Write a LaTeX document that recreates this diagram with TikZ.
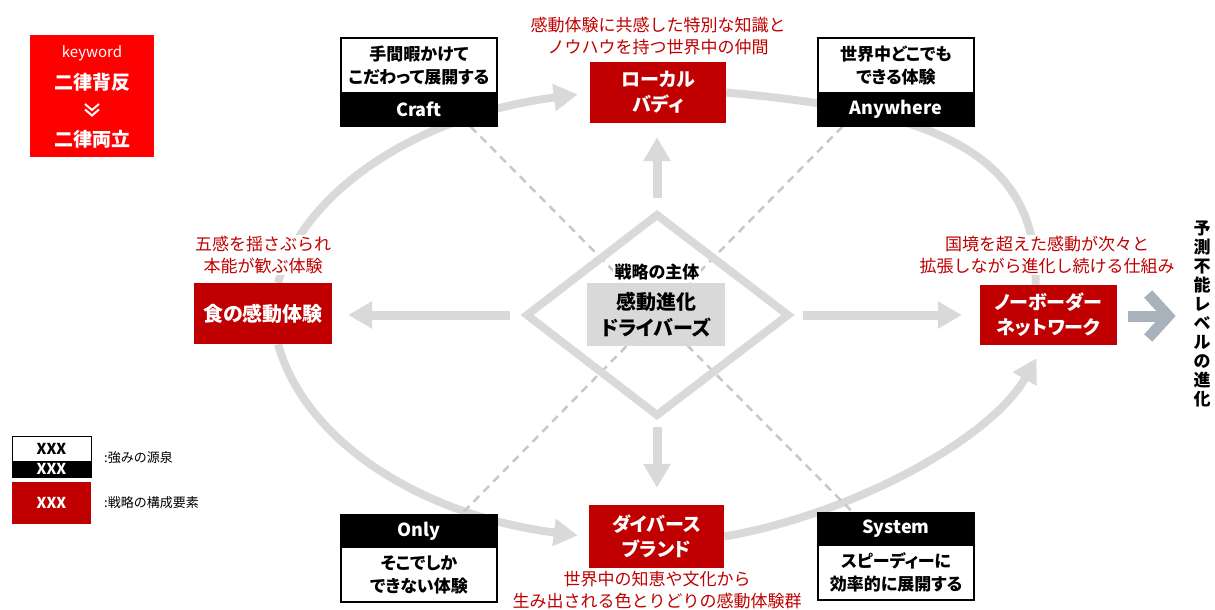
\documentclass[tikz,border=0pt]{standalone}
\usepackage{fontspec}
\setmainfont{Noto Sans CJK JP}
\newfontfamily\jpp{Noto Sans CJK JP}[RawFeature=+palt]
\usetikzlibrary{arrows.meta,calc}
\pgfdeclarelayer{bg}
\pgfsetlayers{bg,main}
\definecolor{cred}{HTML}{C00000}
\definecolor{kred}{HTML}{FF0000}
\definecolor{lgray}{HTML}{D9D9D9}
\definecolor{dgray}{HTML}{C8C8C8}
\definecolor{bgray}{HTML}{A9B1BA}
\definecolor{atext}{HTML}{C00000}
\begin{document}
\begin{tikzpicture}[x=1pt,y=-1pt,
  redbox/.style={fill=cred, text=white, font=\jpp\bfseries\fontsize{19}{25}\selectfont, align=center, minimum width=136pt, minimum height=61pt, inner sep=0pt},
  wtop/.style={draw=black, line width=1.2pt, fill=white, font=\jpp\bfseries\fontsize{17}{23}\selectfont, align=center, minimum width=156pt, minimum height=55pt, inner sep=0pt},
  bbar/.style={draw=black, line width=1.2pt, fill=black, text=white, font=\jpp\bfseries\fontsize{18}{20}\selectfont, minimum width=156pt, minimum height=33pt, inner sep=0pt},
  ann/.style={text=atext, fill=white, font=\fontsize{17}{22}\selectfont, align=center, inner sep=1pt},
  ring/.style={draw=lgray, line width=8pt},
  ringarrow/.style={ring, -{Triangle[width=26pt,length=24pt]}},
  blockarrow/.style={draw=lgray, line width=9pt, -{Triangle[width=26pt,length=24pt]}},
  dashline/.style={draw=dgray, line width=2.5pt, dash pattern=on 8pt off 6pt},
  legtext/.style={anchor=west, font=\fontsize{13}{15}\selectfont, inner sep=0pt}
]
\useasboundingbox (0,0) rectangle (1215,610);

% diamond corners
\coordinate (dT) at (657,215);
\coordinate (dR) at (788,315);
\coordinate (dB) at (657,415);
\coordinate (dL) at (527,315);

% ---------- center ----------
\node[font=\jpp\bfseries\fontsize{17}{20}\selectfont, fill=white, inner sep=2pt] (subj) at (657,272) {戦略の主体};
\node[fill=lgray, minimum width=138pt, minimum height=63pt, inner sep=0pt, align=center,
      font=\jpp\bfseries\fontsize{20}{26}\selectfont] (core) at (656,314.5) {感動進化\\ドライバーズ};

% ---------- red element boxes ----------
\node[redbox] (local) at (658,92.5) {ローカル\\バディ};
\node[redbox, minimum width=138pt, font=\jpp\bfseries\fontsize{20}{25}\selectfont] (food) at (263,313.5) {食の感動体験};
\node[redbox, minimum width=137pt, minimum height=60pt] (net) at (1048.5,315) {ノーボーダー\\ネットワーク};
\node[redbox, minimum width=135pt, minimum height=63pt] (brand) at (656.5,536.5) {ダイバース\\ブランド};

% ---------- annotations ----------
\node[ann] (localA) at (658,36.5) {感動体験に共感した特別な知識と\\ノウハウを持つ世界中の仲間};
\node[ann] (foodA) at (263,255) {五感を揺さぶられ\\本能が歓ぶ体験};
\node[ann] (netA) at (1047,255) {国境を超えた感動が次々と\\拡張しながら進化し続ける仕組み};
\node[ann] (brandA) at (657,590) {世界中の知恵や文化から\\生み出される色とりどりの感動体験群};

% ---------- strength boxes ----------
\node[wtop] (craftT) at (419,65.5) {手間暇かけて\\こだわって展開する};
\node[bbar] (craftB) at (419,109.5) {Craft};
\node[wtop] (anyT) at (896,65.5) {世界中どこでも\\できる体験};
\node[bbar] (anyB) at (896,109.5) {Anywhere};
\node[wtop] (onlyT) at (419,574.5) {そこでしか\\できない体験};
\node[bbar] (onlyB) at (419,531) {Only};
\node[wtop] (sysT) at (896,572.5) {スピーディーに\\効率的に展開する};
\node[bbar] (sysB) at (896,529) {System};

% ---------- connectors on the background layer ----------
\begin{pgfonlayer}{bg}
\draw[ringarrow] ($(food.north)+(15,0)$) .. controls (306,186) and (425,114) .. ($(local.west)+(-12,2)$);
\draw[ring] (local.east) .. controls (920,110) and (1040,145) .. ($(net.north)+(-13,0)$);
\draw[ringarrow] ($(food.south)+(15,0)$) .. controls (306,444) and (425,516) .. ($(brand.west)+(-11,-1)$);
\draw[ringarrow] (brand.east) .. controls (850,515) and (990,440) .. ($(net.south)+(-12,13)$);

\draw[dashline] ($(craftB.south east)+(-27,0)$) -- ($(sysB.north west)+(35,0)$);
\draw[dashline] ($(anyB.south west)+(25,0)$) -- ($(onlyB.north east)+(-36,0)$);

\draw[draw=lgray, line width=8pt, line join=miter] (dT) -- (dR) -- (dB) -- (dL) -- cycle;

\draw[blockarrow] ($(dT)+(0,-17)$) -- ($(dT |- local.south)+(0,14)$);
\draw[blockarrow] ($(dB)+(0,12)$) -- ($(dB |- brand.north)+(0,-17)$);
\draw[blockarrow] ($(dL)+(-17,0)$) -- ($(food.east |- dL)+(16,0)$);
\draw[blockarrow] ($(dR)+(15,0)$) -- ($(net.west |- dR)+(-18,0)$);
\end{pgfonlayer}

% ---------- keyword box ----------
\node[fill=kred, minimum width=124pt, minimum height=122pt, inner sep=0pt] (kw) at (92,96) {};
\node[text=white, font=\fontsize{15}{17}\selectfont, inner sep=0pt] (kw1) at (92,53) {keyword};
\node[text=white, font=\jpp\bfseries\fontsize{19}{22}\selectfont, inner sep=0pt] (kw2) at (92,82) {二律背反};
\draw[white, line width=2pt] (85,104) -- (92,110) -- (99,104);
\draw[white, line width=2pt] (85,109.5) -- (92,115.5) -- (99,109.5);
\node[text=white, font=\jpp\bfseries\fontsize{19}{22}\selectfont, inner sep=0pt] (kw3) at (92,139) {二律両立};

% ---------- legend ----------
\node[draw=black, line width=1pt, fill=white, minimum width=79pt, minimum height=25pt, inner sep=0pt,
      font=\bfseries\fontsize{15}{15}\selectfont] (lgT) at (51.5,448.5) {XXX};
\node[draw=black, line width=1pt, fill=black, text=white, minimum width=79pt, minimum height=16pt, inner sep=0pt,
      font=\bfseries\fontsize{15}{15}\selectfont] (lgB) at (51.5,469) {XXX};
\node[fill=cred, text=white, minimum width=79pt, minimum height=42pt, inner sep=0pt,
      font=\bfseries\fontsize{15}{15}\selectfont] (lgR) at (51.5,503) {XXX};
\node[legtext] (lg1) at (104,458) {:強みの源泉};
\node[legtext] (lg2) at (104,503) {:戦略の構成要素};

% ---------- evolution arrow and vertical text ----------
\node[font=\bfseries\fontsize{17}{19}\selectfont, align=center, inner sep=0pt] (evo) at (1202,314)
  {予\\測\\不\\能\\レ\\ベ\\ル\\の\\進\\化};
\coordinate (evoS) at ($(net.east)+(11,1)$);
\draw[bgray, line width=11pt] (evoS) -- ($(evoS)+(34,0)$);
\draw[bgray, line width=11pt, line join=miter] ($(evoS)+(20,-22)$) -- ($(evoS)+(40,0)$) -- ($(evoS)+(20,22)$);
\end{tikzpicture}
\end{document}
